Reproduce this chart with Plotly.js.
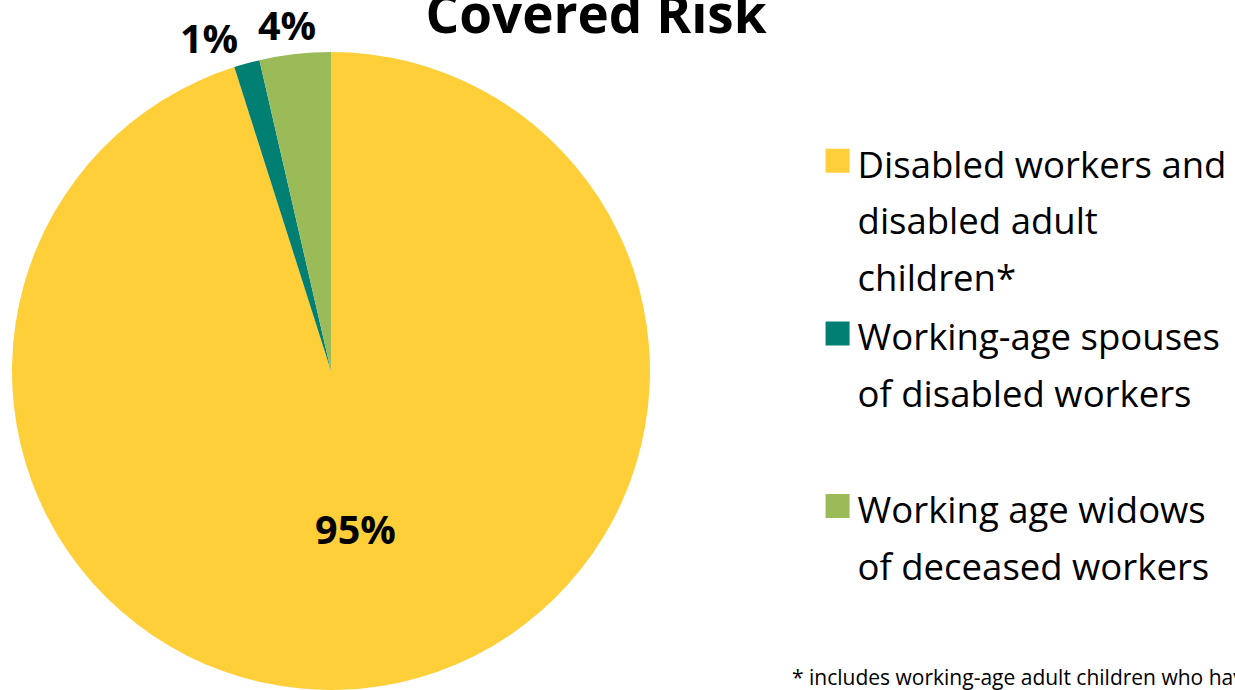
<!DOCTYPE html>
<html>
<head>
<meta charset="utf-8">
<script src="https://cdn.plot.ly/plotly-3.0.1.min.js"></script>
<style>html,body{margin:0;padding:0;background:#fff;}#chart{width:1235px;height:690px;}</style>
</head>
<body>
<div id="chart"></div>
<script>
var categories = [
  "Disabled workers and<br>disabled adult<br>children*",
  "Working-age spouses<br>of disabled workers<br> ",
  "Working age widows<br>of deceased workers"
];
var shares = [95.1, 1.3, 3.6];
var sliceColors = ["#FFCF3A", "#007F72", "#9BBB59"];
var chartTitle = "Covered Risk";
var footnote = "* includes working-age adult children who have been disabled since childhood";

var FONT = "'Open Sans', sans-serif";
var total = shares.reduce(function (a, b) { return a + b; }, 0);
var pctText = shares.map(function (v) { return Math.round(v / total * 100) + "%"; });

function wrapLines(s) {
  return s.split("<br>").map(function (l) { return '<span style="font-size:36.5px">' + l + '</span>'; }).join("<br>");
}

var trace = {
  type: "pie",
  labels: categories.map(wrapLines),
  values: shares,
  sort: false,
  direction: "clockwise",
  rotation: 0,
  marker: { colors: sliceColors, line: { width: 0 } },
  texttemplate: "%{percent:.0%}",
  textposition: ["inside", "none", "none"],
  textfont: { family: FONT, size: 39.5, color: "#000", weight: "bold" },
  insidetextorientation: "horizontal",
  hoverinfo: "none",
  domain: { x: [0.0097, 0.5263], y: [0, 0.9246] }
};

var labelFont = { family: FONT, size: 39.5, color: "#000", weight: "bold" };

var layout = {
  width: 1235,
  height: 690,
  margin: { l: 0, r: 0, t: 0, b: 0 },
  paper_bgcolor: "#fff",
  font: { family: FONT, color: "#000" },
  title: {
    text: "<b>" + chartTitle + "</b>",
    x: 596 / 1235, xanchor: "center",
    y: 0.9785, yanchor: "middle",
    font: { family: FONT, size: 53, color: "#000" }
  },
  showlegend: true,
  legend: {
    x: 0.662, xanchor: "left",
    y: 0.8174, yanchor: "top",
    valign: "top",
    font: { family: FONT, size: 43.5, color: "#000" },
    bgcolor: "rgba(0,0,0,0)"
  },
  annotations: [
    {
      text: "<b>" + pctText[1] + "</b>",
      xref: "paper", yref: "paper",
      x: 209 / 1235, y: 1 - 38 / 690, xanchor: "center", yanchor: "middle",
      showarrow: false, font: labelFont
    },
    {
      text: "<b>" + pctText[2] + "</b>",
      xref: "paper", yref: "paper",
      x: 287 / 1235, y: 1 - 25 / 690, xanchor: "center", yanchor: "middle",
      showarrow: false, font: labelFont
    },
    {
      text: footnote,
      xref: "paper", yref: "paper",
      x: 790 / 1235, xanchor: "left",
      y: 0, yanchor: "bottom", yshift: -3,
      showarrow: false,
      font: { family: FONT, size: 21, color: "#000" }
    }
  ]
};

Plotly.newPlot("chart", [trace], layout, { staticPlot: true }).then(function (gd) {
  gd.querySelectorAll(".legend path.legendpie").forEach(function (p) {
    var t = p.getAttribute("transform") || "";
    p.setAttribute("transform", t + " scale(2)");
  });
});
</script>
</body>
</html>
